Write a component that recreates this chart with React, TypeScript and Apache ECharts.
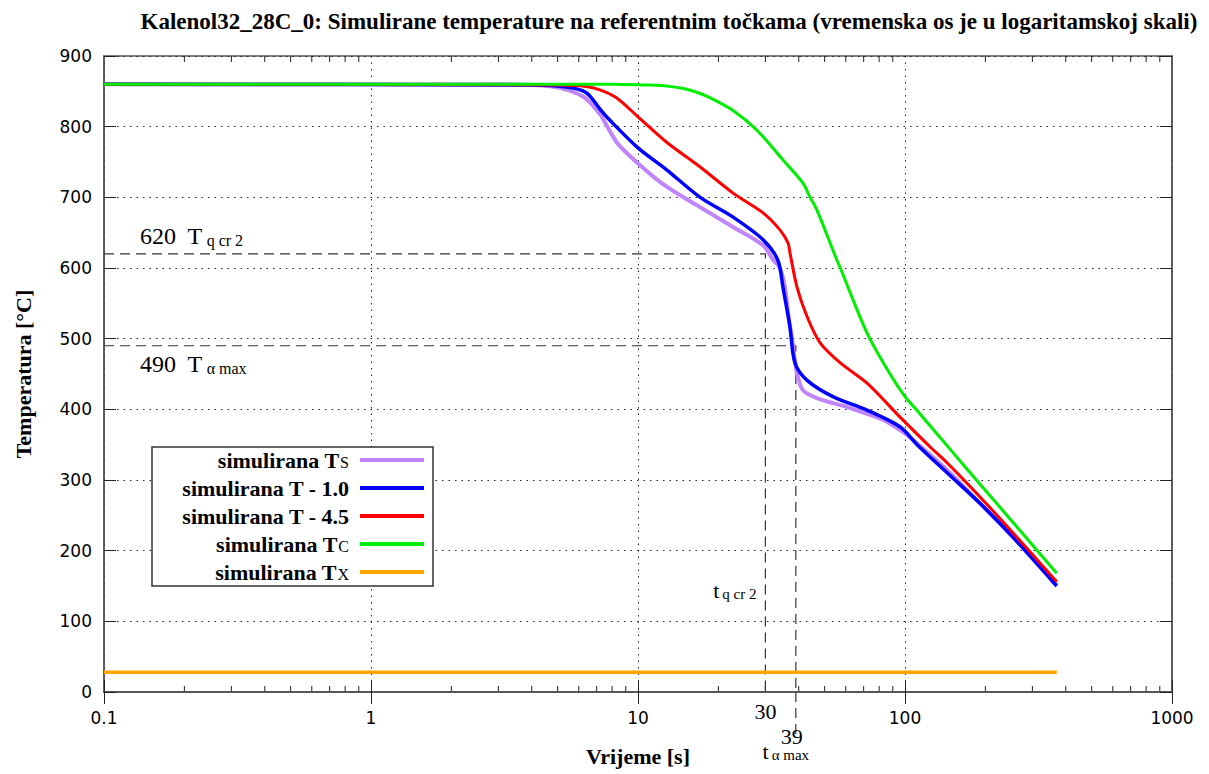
import React, { useEffect, useRef } from "react";
import * as echarts from "echarts";

const titleText =
  "Kalenol32_28C_0: Simulirane temperature na referentnim točkama (vremenska os je u logaritamskoj skali)";
const xAxisName = "Vrijeme [s]";
const yAxisName = "Temperatura [°C]";

// Ts (surface)
const timeS = [0.1, 3, 4.7, 6.2, 7.2, 7.6, 8.4, 10, 12.8, 17.1, 22.7, 29.4, 32, 34, 35.5, 36.5, 37.8, 39.4, 41.5, 46.8, 62, 83, 98, 107, 144, 191, 254, 370];
const tempS = [860, 860, 857, 843, 818, 803, 776, 748, 715, 686, 658, 632, 612, 600, 573, 536, 498, 451, 427, 416, 402, 385, 368, 357, 314, 267, 219, 151];
// T - 1.0
const time1 = [0.1, 4, 5.4, 6.4, 7.2, 7.85, 10, 12.8, 17.1, 22.7, 29.4, 33.4, 34.9, 37.1, 38.7, 43, 53.7, 72, 96, 111, 144, 191, 254, 370];
const temp1 = [860, 859, 856, 848, 825, 809, 770, 739, 700, 672, 640, 611, 573, 516, 466, 441, 418, 399, 375, 350, 310, 267, 219, 150];
// T - 4.5
const time45 = [0.1, 5, 6.4, 7.2, 8.3, 10, 12.8, 17.1, 22.7, 29.4, 34, 36.5, 37.1, 39.4, 43, 48.1, 57.1, 72.1, 95.8, 107, 124, 144, 191, 254, 370];
const temp45 = [860, 859, 857, 852, 841, 814, 778, 743, 706, 678, 654, 635, 621, 573, 531, 494, 466, 437, 389, 371, 347, 324, 276, 225, 156];
// Tc (core)
const timeC = [0.1, 8, 10.5, 12.5, 14.8, 16.5, 18.6, 22.7, 27.9, 34.9, 41.5, 44.1, 46.8, 55.6, 57.1, 72.1, 87.9, 100, 110, 148, 191, 254, 370];
const tempC = [860, 860, 859, 858, 854, 849, 841, 823, 795, 753, 720, 700, 682, 611, 601, 508, 450, 418, 400, 343, 294, 240, 168];
// Tx (ambient)
const timeX = [0.1, 370];
const tempX = [28, 28];

// reference lines
const tQcr2 = 30;
const TQcr2 = 620;
const tAmax = 39;
const TAmax = 490;

const seriesNames = ["simulirana Ts", "simulirana T - 1.0", "simulirana T - 4.5", "simulirana Tc", "simulirana Tx"];
const seriesColors = ["#c084fc", "#0000ff", "#ff0000", "#00ee00", "#ffa500"];

const SERIF = "Liberation Serif";
const SANS = "DejaVu Sans";

function zip(a: number[], b: number[]) {
  return a.map((v, i) => [v, b[i]]);
}

export default function App() {
  const ref = useRef<HTMLDivElement>(null);
  useEffect(() => {
    if (!ref.current) return;
    const chart = echarts.init(ref.current, null, { renderer: "svg" });
    const dash = { color: "#333", width: 1.2, type: [10, 6] as any };
    const lineSeries = (i: number, data: number[][], w: number) => ({
      type: "line",
      name: seriesNames[i],
      data,
      showSymbol: false,
      symbol: "none",
      smooth: 0.3,
      lineStyle: { color: seriesColors[i], width: w },
      itemStyle: { color: seriesColors[i] },
      silent: true,
      z: 3 + i,
    });
    const option: any = {
      animation: false,
      backgroundColor: "#fff",
      title: {
        text: titleText,
        left: 664,
        textAlign: "center",
        top: 5,
        textStyle: { fontFamily: SERIF, fontWeight: "bold", fontSize: 23, color: "#000" },
      },
      grid: {
        left: 104,
        right: 37,
        top: 56,
        bottom: 82,
        show: true,
        borderColor: "#555",
        borderWidth: 1.5,
        outerBoundsMode: "none",
        containLabel: false,
      },
      xAxis: [
        {
          type: "log",
          logBase: 10,
          min: 0.1,
          max: 1000,
          name: xAxisName,
          nameLocation: "middle",
          nameGap: 53,
          nameTextStyle: { fontFamily: SERIF, fontWeight: "bold", fontSize: 22, color: "#000" },
          axisLine: { show: true, lineStyle: { color: "#555", width: 1.5 } },
          axisTick: { show: true, inside: true, length: 12, lineStyle: { color: "#222" } },
          axisLabel: {
            fontFamily: SANS,
            fontSize: 17,
            color: "#000",
            margin: 17,
            formatter: (v: number) => String(+Number(v).toPrecision(6)),
          },
          splitLine: { show: true, lineStyle: { color: "#222", width: 1, type: [1.5, 5] } },
        },
        {
          type: "log",
          logBase: 10,
          min: 0.1,
          max: 1000,
          position: "top",
          axisLine: { show: true, lineStyle: { color: "#555", width: 1.5 } },
          axisTick: { show: true, inside: true, length: 12, lineStyle: { color: "#222" } },
          axisLabel: { show: false },
          splitLine: { show: false },
        },
      ],
      yAxis: [
        {
          type: "value",
          min: 0,
          max: 900,
          interval: 100,
          name: yAxisName,
          nameLocation: "middle",
          nameGap: 70,
          nameRotate: 90,
          nameTextStyle: { fontFamily: SERIF, fontWeight: "bold", fontSize: 22, color: "#000" },
          axisLine: { show: true, lineStyle: { color: "#555", width: 1.5 } },
          axisTick: { show: true, inside: true, length: 12, lineStyle: { color: "#222" } },
          axisLabel: { fontFamily: SANS, fontSize: 17, color: "#000", margin: 12 },
          splitLine: { show: true, lineStyle: { color: "#222", width: 1, type: [1.5, 5] } },
        },
        {
          type: "value",
          min: 0,
          max: 900,
          interval: 100,
          position: "right",
          axisLine: { show: true, lineStyle: { color: "#555", width: 1.5 } },
          axisTick: { show: true, inside: true, length: 12, lineStyle: { color: "#222" } },
          axisLabel: { show: false },
          splitLine: { show: false },
        },
      ],
      series: [
        {
          type: "line",
          name: "ref_qcr2",
          data: [[0.1, TQcr2], [tQcr2, TQcr2], [tQcr2, 0]],
          showSymbol: false,
          symbol: "none",
          lineStyle: dash,
          silent: true,
          z: 2,
        },
        {
          type: "line",
          name: "ref_amax",
          data: [[0.1, TAmax], [tAmax, TAmax], [tAmax, 0]],
          showSymbol: false,
          symbol: "none",
          lineStyle: dash,
          silent: true,
          z: 2,
        },
        lineSeries(0, zip(timeS, tempS), 4),
        lineSeries(1, zip(time1, temp1), 3.5),
        lineSeries(2, zip(time45, temp45), 3),
        lineSeries(3, zip(timeC, tempC), 3),
        lineSeries(4, zip(timeX, tempX), 3.5),
      ],
    };
    chart.setOption(option);

    const px = (v: number) => chart.convertToPixel({ xAxisIndex: 0 }, v) as number;
    const py = (v: number) => chart.convertToPixel({ yAxisIndex: 0 }, v) as number;
    const yBottom = py(0);
    const yTop = py(900);
    const graphics: any[] = [];
    // minor ticks of the log axis (bottom and top)
    for (const d of [0.1, 1, 10, 100]) {
      for (let k = 2; k <= 9; k++) {
        const x = px(d * k);
        graphics.push({ type: "line", shape: { x1: x, y1: yBottom, x2: x, y2: yBottom - 6 }, style: { stroke: "#222", lineWidth: 1 }, silent: true });
        graphics.push({ type: "line", shape: { x1: x, y1: yTop, x2: x, y2: yTop + 6 }, style: { stroke: "#222", lineWidth: 1 }, silent: true });
      }
    }
    // extension of the t_alpha_max line below the axis
    const xA = px(tAmax);
    graphics.push({ type: "line", shape: { x1: xA, y1: yBottom, x2: xA, y2: yBottom + 42 }, style: { stroke: "#333", lineWidth: 1.2, lineDash: [10, 6] }, silent: true });
    const xQ = px(tQcr2);
    const sub = { fontFamily: SERIF, fontSize: 16, color: "#000", verticalAlign: "bottom", padding: [0, 0, 0, 4] };
    const big = { fontFamily: SERIF, fontSize: 24, color: "#000", verticalAlign: "bottom" };
    const mid = { fontFamily: SERIF, fontSize: 22, color: "#000", verticalAlign: "bottom" };
    const sub2 = { fontFamily: SERIF, fontSize: 15, color: "#000", verticalAlign: "bottom", padding: [0, 0, 0, 3] };
    // annotations
    graphics.push({ type: "text", x: 140, y: 236, style: { text: "{n|620  T}{s|q cr 2}", rich: { n: big, s: sub }, verticalAlign: "middle" }, silent: true });
    graphics.push({ type: "text", x: 140, y: 364, style: { text: "{n|490  T}{s|α max}", rich: { n: big, s: sub }, verticalAlign: "middle" }, silent: true });
    graphics.push({ type: "text", x: xQ - 9, y: 590, style: { text: "{n|t}{s|q cr 2}", rich: { n: mid, s: sub2 }, align: "right", verticalAlign: "middle" }, silent: true });
    graphics.push({ type: "text", x: xQ, y: 711, style: { text: String(tQcr2), fontFamily: SERIF, fontSize: 22, fill: "#000", align: "center", verticalAlign: "middle" }, silent: true });
    graphics.push({ type: "text", x: xA - 4, y: 736, style: { text: String(tAmax), fontFamily: SERIF, fontSize: 22, fill: "#000", align: "center", verticalAlign: "middle" }, silent: true });
    graphics.push({ type: "text", x: xA - 10, y: 751, style: { text: "{n|t}{s|α max}", rich: { n: mid, s: sub2 }, align: "center", verticalAlign: "middle" }, silent: true });

    // legend
    const legendLabels = [
      ["simulirana T", "S"],
      ["simulirana T - 1.0", ""],
      ["simulirana T - 4.5", ""],
      ["simulirana T", "C"],
      ["simulirana T", "X"],
    ];
    graphics.push({ type: "rect", shape: { x: 152, y: 447, width: 281, height: 139 }, style: { fill: "#fff", stroke: "#333", lineWidth: 1.5 }, z: 10, silent: true });
    legendLabels.forEach((lab, i) => {
      const y = 460 + i * 28;
      const text = lab[1] ? `{a|${lab[0]}}{b|${lab[1]}}` : `{a|${lab[0]}}`;
      graphics.push({
        type: "text",
        x: 349,
        y,
        z: 11,
        style: {
          text,
          align: "right",
          verticalAlign: "middle",
          rich: {
            a: { fontFamily: SERIF, fontWeight: "bold", fontSize: 22, color: "#000", verticalAlign: "bottom" },
            b: { fontFamily: SERIF, fontSize: 16, color: "#000", verticalAlign: "bottom", padding: [0, 0, 1, 1] },
          },
        },
        silent: true,
      });
      graphics.push({ type: "line", z: 11, shape: { x1: 360, y1: y, x2: 424, y2: y }, style: { stroke: seriesColors[i], lineWidth: 4 }, silent: true });
    });
    chart.setOption({ graphic: graphics });

    return () => chart.dispose();
  }, []);
  return <div ref={ref} style={{ position: "absolute", left: 0, top: 0, width: 1209, height: 774 }} />;
}
